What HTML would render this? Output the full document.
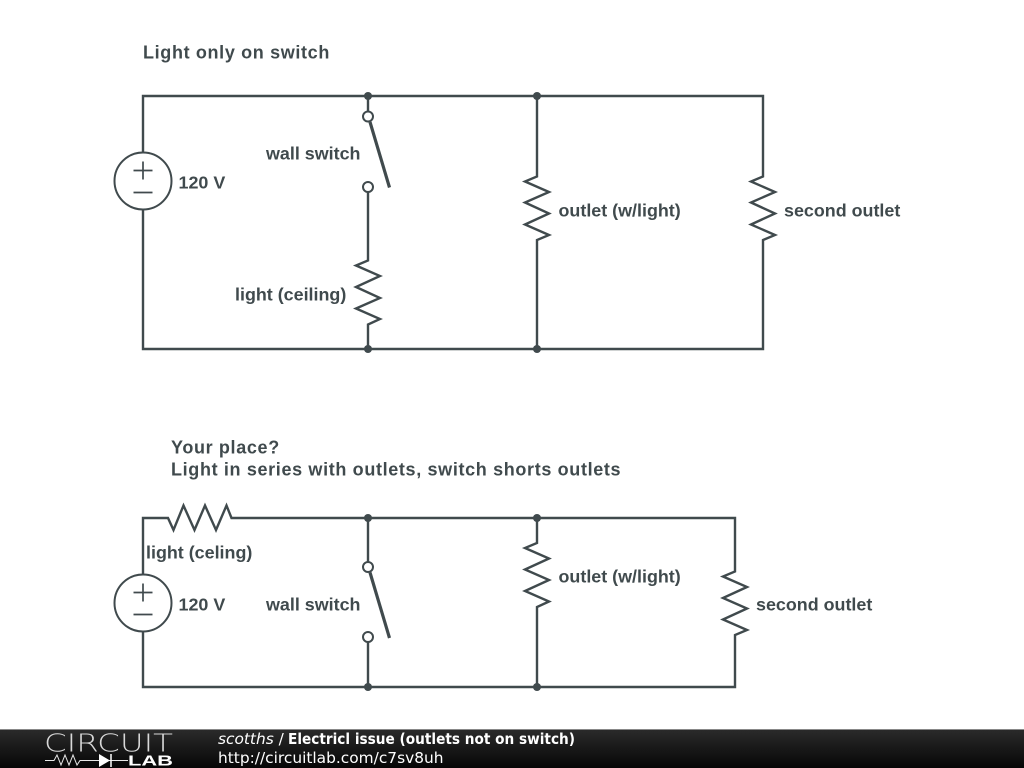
<!DOCTYPE html>
<html><head><meta charset="utf-8"><style>
html,body{margin:0;padding:0;background:#fff;width:1024px;height:768px;overflow:hidden}
svg{display:block}
.w{fill:none;stroke:#404a4d;stroke-width:2.4;stroke-linejoin:miter}
.s{fill:none;stroke:#404a4d;stroke-width:1.7}
.t{font:bold 17.9px "Liberation Sans",sans-serif;fill:#404a4d}
.h{font:bold 18px "Liberation Sans",sans-serif;fill:#404a4d;letter-spacing:.65px}
.d{fill:#404a4d}
.o{fill:#fff;stroke:#404a4d;stroke-width:2}
.f{font:15.4px "DejaVu Sans",sans-serif;fill:#fff}
</style></head><body>
<svg width="1024" height="768" viewBox="0 0 1024 768" xmlns="http://www.w3.org/2000/svg">
<defs><linearGradient id="g" x1="0" y1="0" x2="0" y2="1"><stop offset="0" stop-color="#2b2b2b"/><stop offset="1" stop-color="#060606"/></linearGradient></defs>

<text class="h" x="143" y="58.500">Light only on switch</text>
<path class="w" d="M143 152V96H763V176.500L751 181.500L775 192L751 202.500L775 213.500L751 224.500L775 235L763 240V349H143V210"/>
<path class="w" d="M537 96V176.500L525 181.500L549 192L525 202.500L549 213.500L525 224.500L549 235L537 240V349"/>
<path class="w" d="M368 96V111M368 192V260.500L356 265.500L380 276L356 287L380 298L356 308.500L380 319L368 324.500V349"/>
<line x1="370" y1="122" x2="389.500" y2="187.500" stroke="#404a4d" stroke-width="3.200"/>
<circle class="o" cx="368" cy="116.500" r="5"/><circle class="o" cx="368" cy="187" r="5"/>
<circle class="s" style="stroke-width:2" cx="143" cy="181" r="28.500"/>
<path class="s" d="M133.500 170.500H152.500M143 161.500V179.500M133.500 192.500H152.500"/>
<circle class="d" cx="368" cy="96" r="4"/><circle class="d" cx="537" cy="96" r="4"/><circle class="d" cx="368" cy="349" r="4"/><circle class="d" cx="537" cy="349" r="4"/>
<text class="t" x="266" y="159.500">wall switch</text>
<text class="t" x="178.500" y="188.500">120 V</text>
<text class="t" x="235" y="300.500">light (ceiling)</text>
<text class="t" x="558.500" y="216.500">outlet (w/light)</text>
<text class="t" x="784" y="216.500">second outlet</text>

<text class="h" x="171" y="453.500">Your place?</text>
<text class="h" x="171" y="475.500">Light in series with outlets, switch shorts outlets</text>
<path class="w" d="M143 574V518H168L173.500 530L183.500 505.500L194.500 530L205 505.500L216 530L226.500 505.500L231.500 518H735V571.500L723 576.500L747 587L723 598L747 608.500L723 619.500L747 630L735 635V687H143V632"/>
<path class="w" d="M537 518V543L525 548L549 558.500L525 569.500L549 580L525 591L549 601.500L537 607V687"/>
<path class="w" d="M368 518V562M368 642V687"/>
<line x1="370" y1="572.500" x2="389.500" y2="638" stroke="#404a4d" stroke-width="3.200"/>
<circle class="o" cx="368" cy="567" r="5"/><circle class="o" cx="368" cy="637" r="5"/>
<circle class="s" style="stroke-width:2" cx="143" cy="603" r="28.500"/>
<path class="s" d="M133.500 592.500H152.500M143 583.500V601.500M133.500 614.500H152.500"/>
<circle class="d" cx="368" cy="518" r="4"/><circle class="d" cx="537" cy="518" r="4"/><circle class="d" cx="368" cy="687" r="4"/><circle class="d" cx="537" cy="687" r="4"/>
<text class="t" x="146" y="558.500">light (celing)</text>
<text class="t" x="178.500" y="610.500">120 V</text>
<text class="t" x="266" y="610.500">wall switch</text>
<text class="t" x="558.500" y="582.500">outlet (w/light)</text>
<text class="t" x="756" y="610.500">second outlet</text>

<rect x="0" y="729" width="1024" height="39" fill="url(#g)"/>
<rect x="0" y="729" width="1024" height="1" fill="#888"/>
<text x="44" y="751.500" font-family="DejaVu Sans ExtraLight,DejaVu Sans,sans-serif" font-weight="200" font-size="25" fill="#d8d8d8" textLength="129" lengthAdjust="spacingAndGlyphs">CIRCUIT</text>
<path d="M45 760.500H54L57 755L61 765L65 755L69 765L73 755L77 765L80 760.500H128" fill="none" stroke="#e8e8e8" stroke-width="1"/>
<path d="M99 754V767L110 760.500Z" fill="#fff"/><path d="M111 754V767" stroke="#fff" stroke-width="1.500"/>
<text x="128" y="765.500" font-family="Liberation Sans,sans-serif" font-weight="bold" font-size="14.500" fill="#fff" textLength="45" lengthAdjust="spacingAndGlyphs">LAB</text>
<text class="f" x="218" y="744"><tspan font-style="oblique">scotths</tspan> /</text>
<text class="f" x="288" y="744" style="font-weight:bold" textLength="287" lengthAdjust="spacingAndGlyphs">Electricl issue (outlets not on switch)</text>
<text class="f" x="218" y="763">http://circuitlab.com/c7sv8uh</text>
</svg>
</body></html>
